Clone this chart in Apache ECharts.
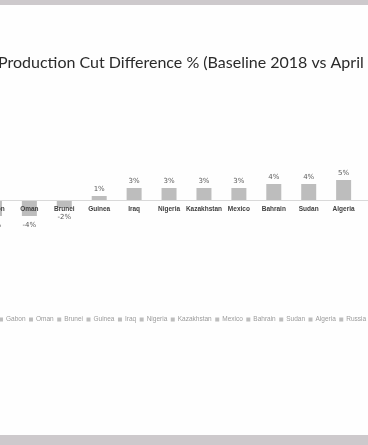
<!DOCTYPE html>
<html>
<head>
<meta charset="utf-8">
<script src="https://cdn.jsdelivr.net/npm/echarts@6/dist/echarts.min.js"></script>
<style>
  html, body { margin:0; padding:0; width:368px; height:445px; overflow:hidden; background:#cdc9cc; }
  #paper { position:absolute; left:0; top:5px; width:368px; height:430px; background:#fefefe; }
  #chart { position:absolute; left:-23px; top:0; width:419px; height:445px; }
</style>
</head>
<body>
<div id="paper"></div>
<div id="chart"></div>
<script>
const titleText = 'Production Cut Difference % (Baseline 2018 vs April 2020)';
const countries = ['Gabon','Oman','Brunei','Guinea','Iraq','Nigeria','Kazakhstan','Mexico','Bahrain','Sudan','Algeria','Russia'];
const diffPct = [-4, -4, -2, 1, 3, 3, 3, 3, 4, 4, 5, 6];

const chart = echarts.init(document.getElementById('chart'), null, {renderer:'canvas'});
const series = countries.map((name, k) => ({
  name: name,
  type: 'bar',
  stack: 'all',
  barWidth: 15,
  z: 2,
  itemStyle: { color: '#bdbdbd' },
  label: {
    show: true,
    formatter: '{c}%',
    fontSize: 7,
    color: '#595959',
    distance: 3,
    fontFamily: 'DejaVu Sans'
  },
  data: diffPct.map((v, i) => i === k
    ? { value: v, label: v < 0 ? { position: 'bottom', distance: 6 } : { position: 'top' } }
    : null)
}));

chart.setOption({
  animation: false,
  backgroundColor: 'transparent',
  title: {
    text: titleText,
    left: 21,
    top: 55,
    padding: 0,
    textStyle: { fontFamily: 'Lato', fontSize: 16, fontWeight: 'normal', color: '#2b2b2b' }
  },
  legend: {
    data: countries,
    left: 22,
    top: 316,
    width: 600,
    padding: 0,
    itemWidth: 4,
    itemHeight: 4,
    itemGap: 3.5,
    icon: 'rect',
    textStyle: { fontSize: 6.5, color: '#9a9a9a', fontFamily: 'Liberation Sans', padding: [0,0,0,-2] }
  },
  grid: { left: 0, right: 0, top: 160, bottom: 205 },
  xAxis: {
    type: 'category',
    data: countries,
    offset: -40,
    z: 10,
    axisLine: { show: true, onZero: false, lineStyle: { color: '#d9d9d9', width: 1 } },
    axisTick: { show: false },
    axisLabel: { interval: 0, fontSize: 6.5, color: '#404040', fontWeight: 'bold', margin: 6, fontFamily: 'Liberation Sans' }
  },
  yAxis: { type: 'value', min: -10, max: 10, show: false, splitLine: { show: false } },
  series: series
});
</script>
</body>
</html>
